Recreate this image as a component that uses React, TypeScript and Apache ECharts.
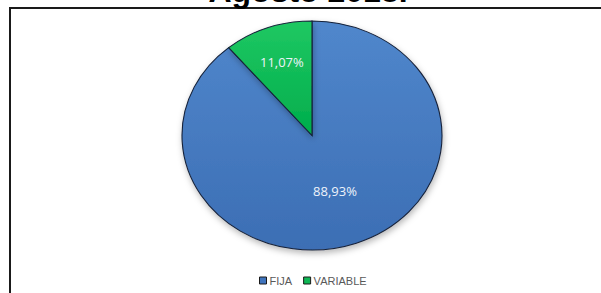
import React, { useEffect, useRef } from "react";
import * as echarts from "echarts";

const categories = ["FIJA", "VARIABLE"];
const shares = [88.93, 11.07];
const titleText = "Agosto 2018.";

const CX = 312;
const CY = 135.5;
const RX = 130;
const RY = 114.5;
const labelFrac = [0.52, 0.68];

const fills = [
  { top: "#5087cc", bottom: "#3c6eb4" },
  { top: "#1fc862", bottom: "#00ad4c" },
];
const legendColors = ["#3f74bd", "#0fb755"];

function fmt(v: number) {
  return v.toFixed(2).replace(".", ",") + "%";
}

export default function App() {
  const ref = useRef<HTMLDivElement>(null);
  useEffect(() => {
    if (!ref.current) return;
    const chart = echarts.init(ref.current, undefined, { renderer: "svg" });
    const total = shares.reduce((a, b) => a + b, 0);
    const series = categories.map((name, s) => ({
      type: "custom",
      name,
      coordinateSystem: "none",
      itemStyle: { color: legendColors[s] },
      data: [[shares[s]]],
      renderItem: (params: any, api: any) => {
        const v = api.value(0);
        const before = shares.slice(0, s).reduce((a, b) => a + b, 0);
        const start = -Math.PI / 2 + (before / total) * Math.PI * 2;
        const end = start + (v / total) * Math.PI * 2;
        const mid = (start + end) / 2;
        const lx = CX + labelFrac[s] * RX * Math.cos(mid);
        const ly = CY + labelFrac[s] * RY * Math.sin(mid);
        return {
          type: "group",
          children: [
            {
              type: "sector",
              x: CX,
              y: CY,
              scaleY: RY / RX,
              shape: { cx: 0, cy: 0, r: RX, r0: 0, startAngle: start, endAngle: end, clockwise: true },
              style: {
                fill: new echarts.graphic.LinearGradient(0, 0, 0, 1, [
                  { offset: 0, color: fills[s].top },
                  { offset: 1, color: fills[s].bottom },
                ]),
                stroke: "#16223a",
                lineWidth: 1.1,
                shadowBlur: 6,
                shadowOffsetY: 3,
                shadowOffsetX: 1,
                shadowColor: "rgba(0,0,0,0.28)",
              },
            },
            {
              type: "text",
              x: lx,
              y: ly,
              style: {
                text: fmt(v),
                fill: "#eef3fb",
                font: "13px 'Open Sans', 'Liberation Sans', sans-serif",
                align: "center",
                verticalAlign: "middle",
              },
            },
          ],
        };
      },
    }));
    chart.setOption({
      animation: false,
      backgroundColor: "#ffffff",
      graphic: [
        {
          type: "rect",
          shape: { x: 10, y: 8, width: 640, height: 340 },
          style: { fill: "none", stroke: "#1a1a1a", lineWidth: 2 },
          z: 0,
        },
        {
          type: "text",
          x: 308,
          y: -9,
          style: {
            text: titleText,
            fill: "#000",
            font: "bold 32px 'Liberation Sans', Arial, sans-serif",
            align: "center",
            verticalAlign: "middle",
          },
        },
      ],
      legend: {
        data: categories,
        left: 254,
        top: 270,
        icon: "rect",
        itemWidth: 7,
        itemHeight: 7,
        itemGap: 11,
        itemStyle: { borderColor: "#1a1a1a", borderWidth: 1 },
        textStyle: {
          color: "#595959",
          fontSize: 11,
          fontFamily: "'Liberation Sans', Arial, sans-serif",
          padding: [0, 0, 0, -2],
        },
      },
      series,
    });
    return () => chart.dispose();
  }, []);
  return (
    <div
      ref={ref}
      style={{ position: "fixed", left: 0, top: 0, width: 601, height: 293 }}
    />
  );
}
